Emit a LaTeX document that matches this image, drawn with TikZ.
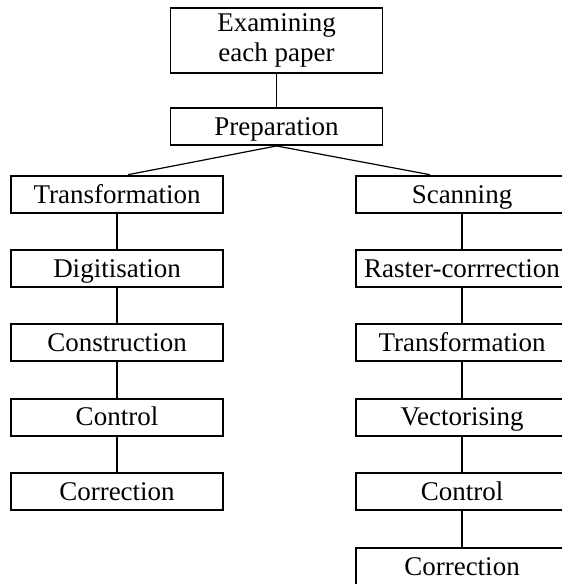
\documentclass[tikz,border=0pt]{standalone}
\usepackage{fontspec}
\setmainfont{Liberation Serif}
\begin{document}
\begin{tikzpicture}[x=1pt,y=-1pt,
  box/.style={draw, line width=1.9pt, minimum width=212pt, minimum height=37pt, inner sep=0pt,
    font=\fontsize{27}{30}\selectfont, text height=21pt, text depth=3.5pt},
  firstbox/.style={box, line width=2.6pt},
  link/.style={draw, line width=1.2pt}]
\useasboundingbox (0,0) rectangle (562,584);
\node[box, minimum height=65pt, text height=, text depth=, align=center] (exam) at (276.5,40.5) {Examining\\each paper};
\node[box] (prep) at (276.5,126.5) {Preparation};
% left column
\node[firstbox] (l1) at (117,194.5) {Transformation};
\node[box] (l2) at (117,268.7) {Digitisation};
\node[box] (l3) at (117,342.9) {Construction};
\node[box] (l4) at (117,417.1) {Control};
\node[box] (l5) at (117,491.3) {Correction};
% right column
\node[firstbox] (r1) at (462,194.5) {Scanning};
\node[box] (r2) at (462,268.7) {Raster-corrrection};
\node[box] (r3) at (462,342.9) {Transformation};
\node[box] (r4) at (462,417.1) {Vectorising};
\node[box] (r5) at (462,491.3) {Control};
\node[box] (r6) at (462,566.5) {Correction};
\coordinate (la) at ([xshift=11pt]l1.north);
\coordinate (ra) at ([xshift=-32pt]r1.north);
\draw[link] (exam) -- (prep);
\draw[link] (prep.south) -- (la);
\draw[link] (prep.south) -- (ra);
\draw[link] (l1) -- (l2);
\draw[link] (l2) -- (l3);
\draw[link] (l3) -- (l4);
\draw[link] (l4) -- (l5);
\draw[link] (r1) -- (r2);
\draw[link] (r2) -- (r3);
\draw[link] (r3) -- (r4);
\draw[link] (r4) -- (r5);
\draw[link] (r5) -- (r6);
\end{tikzpicture}
\end{document}
